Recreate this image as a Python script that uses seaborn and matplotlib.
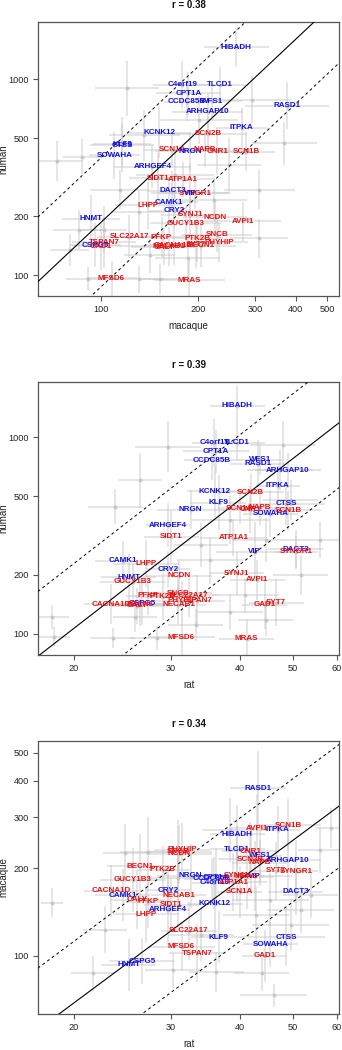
import numpy as np
import matplotlib
matplotlib.use("Agg")
import matplotlib.pyplot as plt
import seaborn as sns

# ---------------- data ----------------
genes = ["HIBADH", "C4orf19", "TLCD1", "CPT1A", "CCDC85B", "WFS1", "ARHGAP10", "RASD1",
         "ITPKA", "KCNK12", "SCN2B", "KLF9", "CTSS", "SOWAHA", "SCN1A", "NRGN",
         "NAPB", "CNR1", "SCN1B", "ARHGEF4", "SIDT1", "ATP1A1", "DACT3", "SYNGR1",
         "VIP", "CAMK1", "LHPP", "CRY2", "SYNJ1", "NCDN", "AVPI1", "HNMT",
         "GUCY1B3", "SLC22A17", "PFKP", "PTK2B", "SNCB", "PHYHIP", "TSPAN7", "CSPG5",
         "NECAB1", "GAD1", "CALY", "BECN1", "CACNA1D", "SYT7", "MFSD6", "MRAS"]
human = [1450, 937, 937, 848, 766, 770, 680, 732,
         565, 532, 526, 465, 460, 407.5, 435, 428,
         438, 428, 425, 357.5, 311, 307.5, 268.5, 261,
         261.5, 235.7, 226.7, 213.4, 203, 197.4, 187.9, 193.8,
         184, 157, 156.3, 154.4, 160.6, 147, 147, 142.3,
         140.3, 140, 138.4, 141, 141.6, 143.8, 96.1, 94.3]
macaque = [262, 178, 233, 186, 184, 221, 213.5, 377,
           272, 151, 214.6, 115.8, 116, 109.7, 166, 188.5,
           209, 229, 281.5, 144, 150, 179, 166, 195,
           188, 161.5, 139.1, 168.3, 188.5, 224.7, 274.2, 93.1,
           182.7, 121.9, 153.6, 198, 228, 231.9, 102, 95.8,
           161.8, 99.8, 156, 203.6, 167.5, 196.2, 107.5, 187.3]
rat = [39.65, 36.0, 39.6, 36.2, 35.6, 43.6, 48.9, 43.2,
       46.9, 36.1, 41.9, 36.65, 48.6, 45.5, 40.0, 32.6,
       43.5, 41.8, 49.0, 29.7, 30.1, 39.0, 50.6, 50.7,
       42.6, 24.55, 27.1, 29.7, 39.5, 31.1, 43.1, 25.2,
       25.6, 32.4, 27.25, 29.0, 31.0, 31.45, 33.5, 26.6,
       31.0, 44.4, 26.1, 26.4, 23.4, 46.6, 31.4, 41.2]
# 'hi' = blue label, 'lo' = red label
group = ["hi", "hi", "hi", "hi", "hi", "hi", "hi", "hi",
         "hi", "hi", "lo", "hi", "hi", "hi", "lo", "hi",
         "lo", "lo", "lo", "hi", "lo", "lo", "hi", "lo",
         "hi", "hi", "lo", "hi", "lo", "lo", "lo", "hi",
         "lo", "lo", "lo", "lo", "lo", "lo", "lo", "hi",
         "lo", "lo", "lo", "lo", "lo", "lo", "lo", "lo"]
# log10 standard errors
err_human = [.10, .12, .09, .11, .10, .08, .09, .12, .10, .13, .09, .14, .11, .12, .08, .10,
             .09, .12, .10, .11, .13, .09, .10, .08, .15, .10, .12, .09, .11, .08, .10, .12,
             .09, .11, .10, .12, .09, .10, .13, .11, .10, .12, .09, .11, .10, .12, .09, .10]
err_macaque = [.10, .09, .08, .10, .07, .09, .11, .13, .08, .10, .12, .09, .10, .08, .09, .11,
               .08, .10, .09, .12, .09, .10, .08, .11, .12, .09, .10, .08, .09, .10, .12, .09,
               .11, .10, .09, .08, .11, .09, .10, .08, .12, .09, .10, .11, .09, .10, .08, .11]
err_rat = [.05, .04, .05, .06, .05, .04, .06, .05, .04, .05, .06, .05, .07, .05, .04, .06,
           .05, .05, .06, .04, .05, .06, .05, .04, .07, .05, .06, .04, .05, .06, .05, .05,
           .06, .05, .04, .05, .06, .05, .05, .06, .05, .04, .05, .06, .05, .05, .06, .05]

# unlabeled genes (per panel)
bg1_x = [73, 87, 120, 294, 369, 91, 131, 152, 309, 185, 131, 136, 201, 249, 114, 169, 224, 141, 102, 309, 80, 85]
bg1_y = [382, 401, 897, 782, 471, 96, 95, 95, 154, 122, 210, 518, 618, 364, 272, 324, 241, 126, 170, 272, 134, 170]
bg1_ex = [.08, .06, .10, .12, .10, .07, .08, .06, .09, .10, .08, .11, .12, .10, .09, .12, .10, .08, .07, .11, .06, .08]
bg1_ey = [.10, .09, .14, .12, .11, .06, .07, .08, .10, .12, .11, .13, .12, .14, .10, .12, .11, .09, .12, .10, .08, .10]

bg2_x = [18.3, 18.4, 23.6, 28.4, 25.9, 38.5, 44.6, 29.7, 26.4, 23.8, 48.0, 38.5, 44.6, 49.5, 35.4, 51.6, 41.0, 34.0, 47.4, 56.0, 33.3]
bg2_y = [122, 96.5, 95, 95, 122, 129, 117, 896, 606, 443, 914, 379, 300, 480, 237, 199, 157, 283, 681, 300, 111]
bg2_ex = [.03, .03, .04, .05, .04, .06, .05, .06, .04, .05, .06, .07, .06, .05, .06, .05, .06, .05, .06, .04, .05]
bg2_ey = [.06, .05, .05, .06, .08, .09, .08, .13, .14, .09, .12, .12, .11, .10, .12, .10, .09, .11, .10, .09, .08]

bg3_x = [18.3, 46.1, 24.8, 30.3, 36.3, 43.9, 58.7, 56.0, 27.3, 31.0, 22.8, 21.7, 45.5, 51.6, 49.5, 42.8, 38.5, 53.8, 34.0]
bg3_y = [152, 73, 225, 89, 88, 87, 275, 231, 228, 185, 123, 87, 156, 144, 128, 138, 271, 162, 118]
bg3_ex = [.02, .06, .04, .05, .05, .05, .03, .04, .05, .06, .04, .04, .07, .06, .07, .06, .05, .05, .06]
bg3_ey = [.05, .04, .10, .06, .07, .06, .07, .08, .12, .10, .08, .06, .09, .08, .09, .10, .11, .08, .09]

titles = ["r = 0.38", "r = 0.39", "r = 0.34"]
fit_intercept = [-0.823, -0.8067, 0.002]   # log10(y) = a + b*log10(x)
fit_slope = [1.547, 2.177, 1.41]
fit_band = [0.329, 0.330, 0.212]

# ---------------- style ----------------
sns.set_theme(style="white")
plt.rcParams["font.family"] = ["Liberation Sans", "DejaVu Sans"]

fig = plt.figure(figsize=(3.42, 10.5), dpi=100)

species = {"human": (human, err_human), "macaque": (macaque, err_macaque), "rat": (rat, err_rat)}
panels = [
    dict(xs="macaque", ys="human", bg=(bg1_x, bg1_y, bg1_ex, bg1_ey),
         xlim=(63.5, 547), ylim=(78.2, 1954),
         xt=[100, 200, 300, 400, 500], yt=[100, 200, 500, 1000],
         rect=[0.1105, 1 - 296 / 1050, 0.882, 274 / 1050]),
    dict(xs="rat", ys="human", bg=(bg2_x, bg2_y, bg2_ex, bg2_ey),
         xlim=(17.23, 60.7), ylim=(77.9, 1919),
         xt=[20, 30, 40, 50, 60], yt=[100, 200, 500, 1000],
         rect=[0.1105, 1 - 655 / 1050, 0.882, 273.3 / 1050]),
    dict(xs="rat", ys="macaque", bg=(bg3_x, bg3_y, bg3_ex, bg3_ey),
         xlim=(17.23, 60.7), ylim=(63.0, 550),
         xt=[20, 30, 40, 50, 60], yt=[100, 200, 300, 400, 500],
         rect=[0.1105, 1 - 1014 / 1050, 0.882, 273.3 / 1050]),
]

gray = (0.78, 0.78, 0.78)
frame = "#555555"
col_map = {"hi": "#1010ee", "lo": "#ee1010"}


def logerr(v, e):
    v = np.asarray(v, float)
    e = np.asarray(e, float)
    return np.vstack([v - v * 10 ** (-e), v * 10 ** e - v])


for k, p in enumerate(panels):
    ax = fig.add_axes(p["rect"])
    ax.set_xscale("log")
    ax.set_yscale("log")
    xv, xe = species[p["xs"]]
    yv, ye = species[p["ys"]]
    bx, by, bex, bey = p["bg"]

    # gray error crosses
    ax.errorbar(bx, by, xerr=logerr(bx, bex), yerr=logerr(by, bey), fmt="none",
                ecolor=gray, elinewidth=1.1, alpha=0.6, capsize=0, zorder=1)
    ax.errorbar(xv, yv, xerr=logerr(xv, xe), yerr=logerr(yv, ye), fmt="none",
                ecolor=gray, elinewidth=1.1, alpha=0.6, capsize=0, zorder=1)
    sns.scatterplot(x=list(bx) + list(xv), y=list(by) + list(yv), ax=ax, color=(0.76, 0.76, 0.76),
                    s=8, linewidth=0, alpha=0.85, zorder=2, legend=False)

    # fit line and band
    lx = np.logspace(np.log10(p["xlim"][0]), np.log10(p["xlim"][1]), 50)
    a, b, d = fit_intercept[k], fit_slope[k], fit_band[k]
    ly = 10 ** (a + b * np.log10(lx))
    ax.plot(lx, ly, color="black", lw=0.8, zorder=3)
    ax.plot(lx, ly * 10 ** d, color="black", lw=0.7, ls=(0, (3, 3)), zorder=3)
    ax.plot(lx, ly * 10 ** (-d), color="black", lw=0.7, ls=(0, (3, 3)), zorder=3)

    # gene labels
    for g, x, y, grp in zip(genes, xv, yv, group):
        ax.text(x, y, g, ha="center", va="center", color=col_map[grp], fontsize=5.8,
                fontweight="bold", zorder=5, clip_on=True)

    ax.set_xlim(*p["xlim"])
    ax.set_ylim(*p["ylim"])
    ax.set_xticks(p["xt"])
    ax.set_xticklabels([str(t) for t in p["xt"]])
    ax.set_yticks(p["yt"])
    ax.set_yticklabels([str(t) for t in p["yt"]])
    ax.minorticks_off()
    ax.tick_params(axis="both", which="major", direction="out", length=3.5, width=0.8,
                   color=frame, labelsize=6.6, labelcolor="#222222", pad=3,
                   bottom=True, left=True)
    for s in ax.spines.values():
        s.set_visible(True)
        s.set_color(frame)
        s.set_linewidth(0.9)
    ax.set_xlabel(p["xs"], fontsize=7, color="#222222", labelpad=5)
    ax.set_ylabel(p["ys"], fontsize=7, color="#222222", labelpad=1.5)
    ax.yaxis.set_label_coords(-0.098, 0.5)
    ax.set_title(titles[k], fontsize=7, fontweight="bold", color="#111111", pad=10)
    ax.set_facecolor("white")

fig.savefig("out.png", dpi=100, facecolor="white")
